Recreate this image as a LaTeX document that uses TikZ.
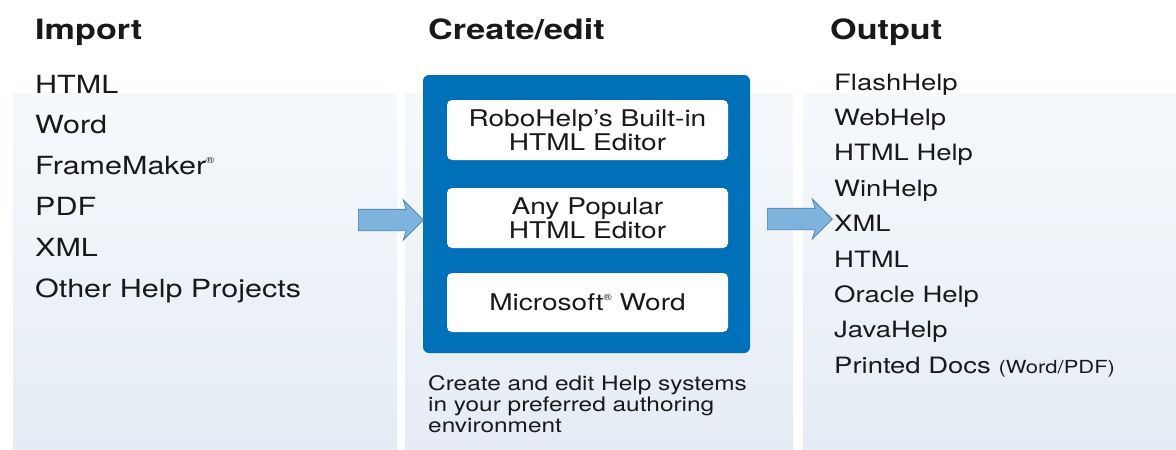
\documentclass[tikz,border=0pt]{standalone}
\usepackage{fontspec}
\setmainfont{TeX Gyre Heros}[FakeStretch=1.22]
\usetikzlibrary{positioning,shapes.arrows}
\definecolor{rhblue}{RGB}{0,112,185}
\definecolor{arrowfill}{RGB}{125,179,220}
\definecolor{arrowline}{RGB}{74,124,172}
\definecolor{paneltop}{RGB}{246,249,252}
\definecolor{panelbot}{RGB}{229,236,245}
\definecolor{ink}{RGB}{25,25,25}
\newcommand{\regmark}{\raisebox{0.45em}{\fontsize{9}{9}\selectfont ®}}

\begin{document}
\begin{tikzpicture}
[x=1pt, y=-1pt, text=ink]

\tikzstyle{panel}=[top color=paneltop, bottom color=panelbot, draw=none]
\tikzstyle{heading}=[anchor=base west, inner sep=0pt, font=\fontsize{28}{30}\selectfont\bfseries]
\tikzstyle{inlist}=[anchor=base west, inner sep=0pt, font=\fontsize{25}{28}\selectfont]
\tikzstyle{outlist}=[anchor=base west, inner sep=0pt, font=\fontsize{22.5}{25}\selectfont]
\tikzstyle{editor}=[rounded corners=5pt, fill=white, minimum width=281pt, minimum height=60pt, align=center, font=\fontsize{23}{24}\selectfont]
\tikzstyle{flow}=[single arrow, fill=arrowfill, draw=arrowline, line width=0.6pt, inner xsep=0pt, inner ysep=10.5pt, single arrow head extend=9.5pt, single arrow head indent=3pt, minimum height=65pt]

\useasboundingbox (0,0) rectangle (1176,450);

% background panels
\shade[panel] (13,93) rectangle (397,450);
\shade[panel] (405,93) rectangle (793,450);
\shade[panel] (803,93) rectangle (1176,450);

% headings
\node[heading] (imp)  at (35,39)  {Import};
\node[heading] (edt)  at (428,39) {Create/edit};
\node[heading] (outp) at (830,39) {Output};

% import list
\node[inlist] (in1) at (35,93) {HTML};
\node[inlist] (in2) [below=40.8pt of in1.base west, anchor=base west] {Word};
\node[inlist] (in3) [below=40.8pt of in2.base west, anchor=base west] {FrameMaker\regmark};
\node[inlist] (in4) [below=40.8pt of in3.base west, anchor=base west] {PDF};
\node[inlist] (in5) [below=40.8pt of in4.base west, anchor=base west] {XML};
\node[inlist] (in6) [below=40.8pt of in5.base west, anchor=base west] {Other Help Projects};

% create/edit box
\node[fill=rhblue, rounded corners=6pt, minimum width=327pt, minimum height=278pt] (frame) at (586.5,214) {};
\node[editor] (ed1) at (587.5,130)   {RoboHelp’s Built-in\\HTML Editor};
\node[editor] (ed2) at (587.5,218)   {Any Popular\\HTML Editor};
\node[editor, minimum height=59pt] (ed3) at (587.5,302.5) {Microsoft\regmark\ Word};
\node[anchor=north west, inner sep=0pt, align=left, font=\fontsize{20}{21}\selectfont] (note) at (428,375.5)
  {Create and edit Help systems\\in your preferred authoring\\environment};

% output list
\node[outlist] (out1) at (834,90) {FlashHelp};
\node[outlist] (out2) [below=35.4pt of out1.base west, anchor=base west] {WebHelp};
\node[outlist] (out3) [below=35.4pt of out2.base west, anchor=base west] {HTML Help};
\node[outlist] (out4) [below=35.4pt of out3.base west, anchor=base west] {WinHelp};
\node[outlist] (out5) [below=35.4pt of out4.base west, anchor=base west] {XML};
\node[outlist] (out6) [below=35.4pt of out5.base west, anchor=base west] {HTML};
\node[outlist] (out7) [below=35.4pt of out6.base west, anchor=base west] {Oracle Help};
\node[outlist] (out8) [below=35.4pt of out7.base west, anchor=base west] {JavaHelp};
\node[outlist] (out9) [below=35.4pt of out8.base west, anchor=base west] {Printed Docs {\fontsize{18}{20}\selectfont(Word/PDF)}};

% arrows
\node[flow] (arrin)  at (385.5,220) {};
\node[flow] (arrout) at (794.5,219) {};
\end{tikzpicture}
\end{document}
